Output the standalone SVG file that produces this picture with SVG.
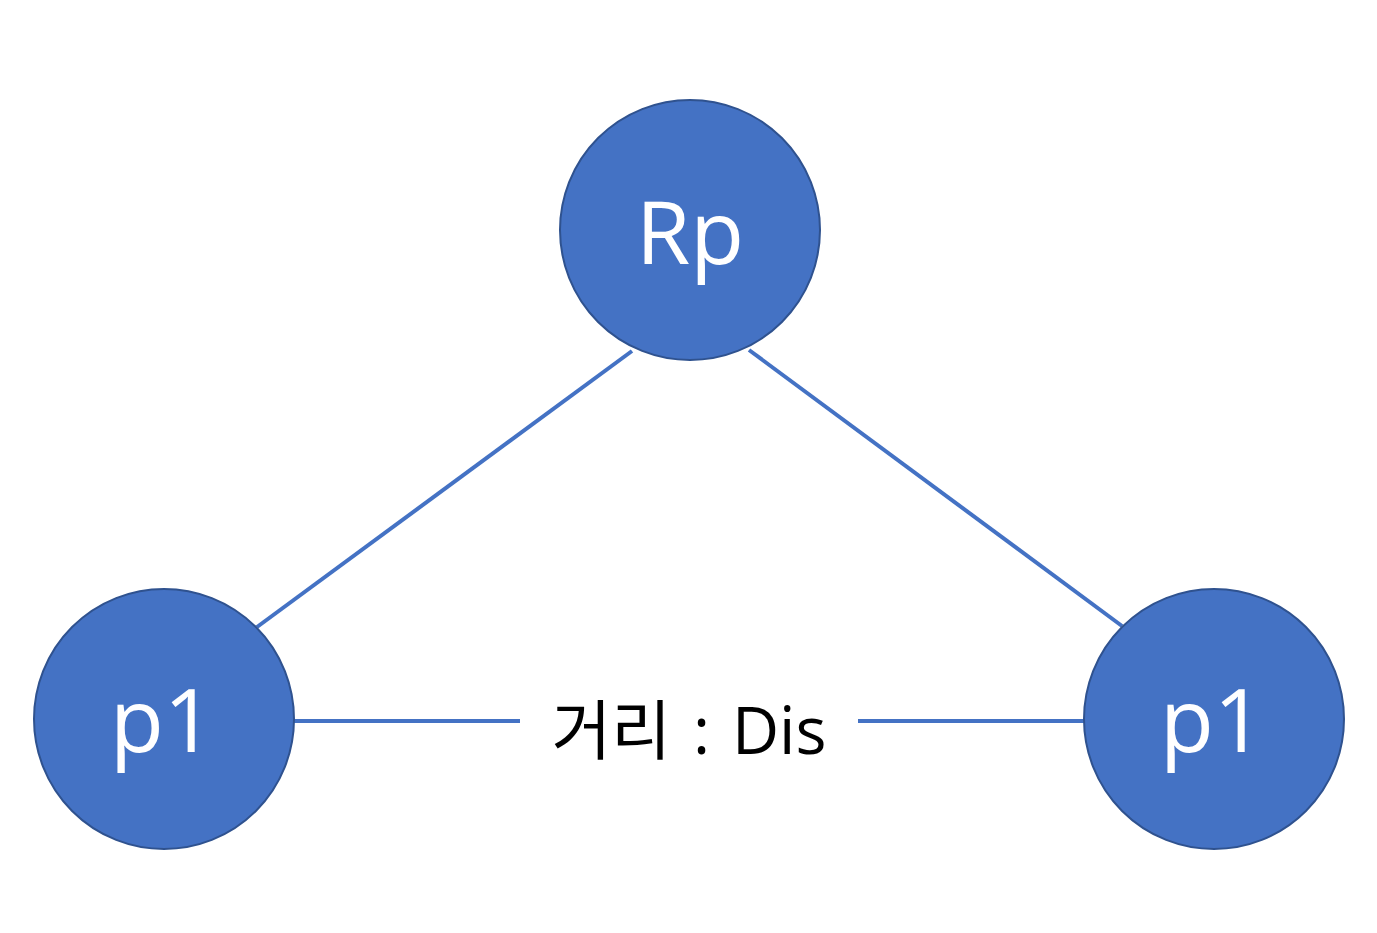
<svg xmlns="http://www.w3.org/2000/svg" width="1377" height="933" viewBox="0 0 1377 933">
<style>
.node{fill:#4472C4;stroke:#2F528F;stroke-width:2}
.lbl{fill:#FFFFFF;font-family:"Open Sans","Noto Sans CJK KR",sans-serif;font-size:88px;text-anchor:middle}
.edge{stroke:#4472C4;stroke-width:4;fill:none}
.elbl{fill:#000000;font-family:"Open Sans","Noto Sans CJK KR",sans-serif;font-size:65px;text-anchor:middle;word-spacing:5px}
</style>
<rect width="1377" height="933" fill="#FFFFFF"/>
<g id="connectors">
<line class="edge" x1="632" y1="351" x2="257" y2="627"/>
<line class="edge" x1="749" y1="350" x2="1122" y2="626"/>
<line class="edge" x1="294" y1="721" x2="520" y2="721"/>
<line class="edge" x1="858" y1="721" x2="1084" y2="721"/>
<text class="elbl" x="689" y="754">거리 : Dis</text>
</g>
<g id="node-rp">
<circle class="node" cx="690" cy="230" r="130"/>
<text class="lbl" x="690" y="264">Rp</text>
</g>
<g id="node-p1-left">
<circle class="node" cx="164" cy="719" r="130"/>
<text class="lbl" x="162" y="752">p1</text>
</g>
<g id="node-p1-right">
<circle class="node" cx="1214" cy="719" r="130"/>
<text class="lbl" x="1212" y="752">p1</text>
</g>
</svg>
